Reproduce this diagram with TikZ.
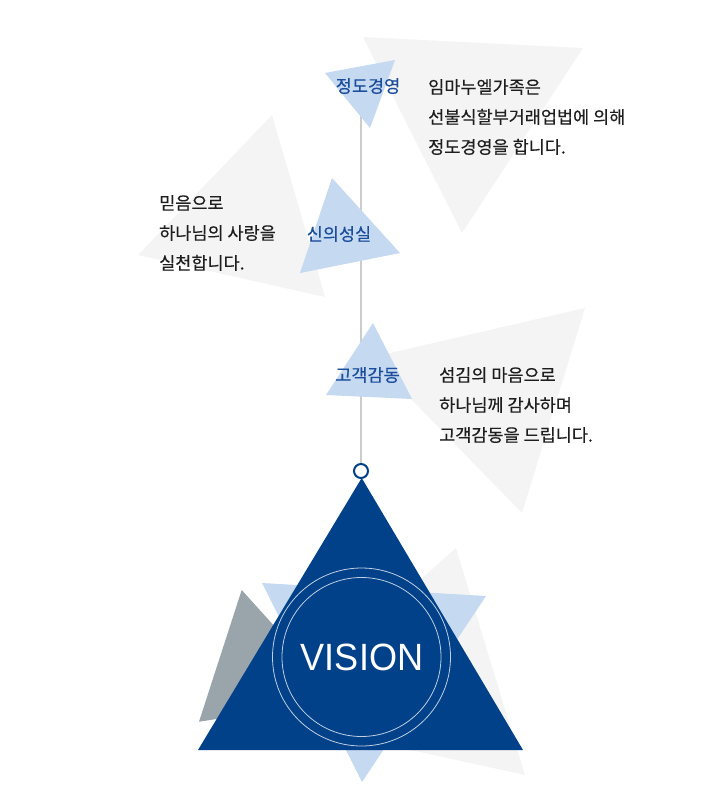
\documentclass[tikz,border=0pt]{standalone}
\usepackage{fontspec}
\setmainfont{Liberation Sans}
\newfontfamily\kr[FakeBold=0.3]{Noto Sans CJK KR}
\definecolor{vblue}{RGB}{0,65,137}
\definecolor{lblue}{RGB}{197,217,241}
\definecolor{lgray}{RGB}{244,244,244}
\definecolor{mgray}{RGB}{154,164,171}
\definecolor{tblue}{RGB}{27,77,155}
\definecolor{txt}{RGB}{30,30,30}
\definecolor{axis}{RGB}{204,204,204}
\tikzset{
  bgtri/.style={fill=lgray, draw=none},
  bluetri/.style={fill=lblue, draw=none},
  label/.style={font=\kr\fontsize{17.5}{20}\selectfont, text=tblue, inner sep=0pt},
  desc/.style={font=\kr\fontsize{17.5}{30}\selectfont, text=txt, align=left, anchor=west, inner sep=0pt},
  axisline/.style={draw=axis, line width=1.2pt},
}
\begin{document}
\begin{tikzpicture}[x=1pt,y=-1pt]
\useasboundingbox (0,0) rectangle (721,797);
% light gray background triangles
\fill[bgtri] (363,37) -- (583,48) -- (462,233) -- cycle;
\fill[bgtri] (272,115) -- (138,255) -- (325,297) -- cycle;
\fill[bgtri] (585,308) -- (370.6,357.5) -- (522,513) -- cycle;
\fill[bgtri] (456,548) -- (525,775) -- (265,718) -- cycle;
% vertical axis
\coordinate (linetop) at (361,85);
\node[circle, draw=vblue, line width=2pt, fill=white, minimum size=14pt, inner sep=0pt] (ring) at (361,471) {};
\draw[axisline] (linetop) -- (ring.north);
% label triangles
\fill[bluetri] (325,73) -- (395,60) -- (370,128) -- cycle;
\fill[bluetri] (332,178) -- (400,253) -- (300,273) -- cycle;
\fill[bluetri] (373,323) -- (326,395) -- (412,399) -- cycle;
% bottom decorations
\fill[mgray] (241.7,590) -- (199,721.7) -- (341,700) -- cycle;
\fill[lblue] (262,583) -- (486,596) -- (362,782) -- cycle;
% main triangle
\fill[vblue] (361.7,478) -- (198,750) -- (523,750) -- cycle;
\draw[white, line width=0.8pt, opacity=0.75] (361.5,657) circle[radius=89];
\draw[white, line width=0.8pt, opacity=0.75] (361.5,657) circle[radius=79.5];
\node[text=white, font=\fontsize{38}{40}\selectfont, inner sep=0pt] (vision) at (362,657) {\scalebox{0.95}[1]{VISION}};
% labels
\node[label] (l1) at (368,86) {정도경영};
\node[label] (l2) at (339,234) {신의성실};
\node[label] (l3) at (367.5,375) {고객감동};
% descriptions
\node[desc] (d1) at (428,117) {임마누엘가족은\\선불식할부거래업법에 의해\\정도경영을 합니다.};
\node[desc] (d2) at (159,233) {믿음으로\\하나님의 사랑을\\실천합니다.};
\node[desc] (d3) at (439,405) {섬김의 마음으로\\하나님께 감사하며\\고객감동을 드립니다.};
\end{tikzpicture}
\end{document}
